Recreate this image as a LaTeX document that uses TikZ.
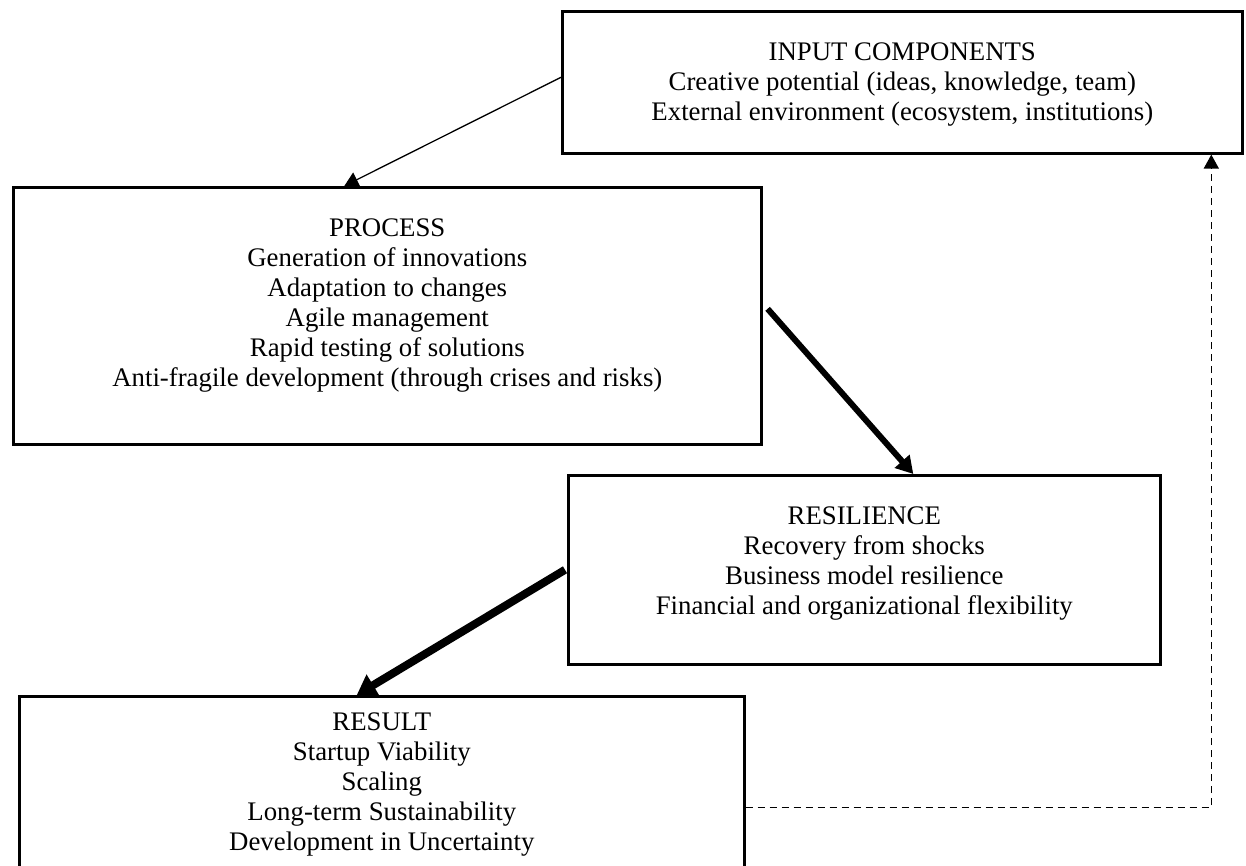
\documentclass[tikz,border=0pt]{standalone}
\usepackage{fontspec}
\setmainfont{Liberation Serif}
\usetikzlibrary{arrows.meta,calc}
\begin{document}
\begin{tikzpicture}[x=1pt,y=-1pt,
  box/.style={draw,line width=2.6pt,inner sep=0pt,anchor=north west},
  txt/.style={inner sep=0pt,anchor=north,align=center,font=\fontsize{26.8}{30}\selectfont},
  thinarrow/.style={line width=1.3pt,-{Triangle[length=14pt,width=16pt]}},
  midarrow/.style={line width=6pt,-{Triangle[length=17pt,width=19pt]}},
  boldarrow/.style={line width=8pt,-{Triangle[length=19pt,width=24pt]}},
  dasharrow/.style={line width=1.4pt,dash pattern=on 7pt off 5pt,-{Triangle[length=14pt,width=15pt]}}]
\path[use as bounding box,clip] (0,0) rectangle (1246,866);
\fill[white] (0,0) rectangle (1246,866);
% boxes
\node[box,minimum width=680pt,minimum height=142pt] (input) at (561,10) {};
\node[box,minimum width=748pt,minimum height=257pt] (process) at (12,186) {};
\node[box,minimum width=592pt,minimum height=189pt] (resil) at (567,474) {};
\node[box,minimum width=725pt,minimum height=222pt] (result) at (18,695) {};
% texts
\node[txt] (inputtxt) at (input.north) [yshift=-33pt] {INPUT COMPONENTS\\Creative potential (ideas, knowledge, team)\\External environment (ecosystem, institutions)};
\node[txt] (processtxt) at (process.north) [yshift=-33pt] {PROCESS\\Generation of innovations\\Adaptation to changes\\Agile management\\Rapid testing of solutions\\Anti-fragile development (through crises and risks)};
\node[txt] (resiltxt) at (resil.north) [yshift=-33pt] {RESILIENCE\\Recovery from shocks\\Business model resilience\\Financial and organizational flexibility};
\node[txt] (resulttxt) at (result.north) [yshift=-18pt] {RESULT\\Startup Viability\\Scaling\\Long-term Sustainability\\Development in Uncertainty};
% connectors
\draw[thinarrow] ([yshift=5pt]input.west) -- ([xshift=-43pt]process.north);
\draw[midarrow] ([xshift=5pt,yshift=7pt]process.east) -- ([xshift=49pt]resil.north);
\draw[boldarrow] ([xshift=-2pt]resil.west) -- ([xshift=-25pt]result.north);
\draw[dasharrow] (result.east) -| ([xshift=309pt]input.south);
\end{tikzpicture}
\end{document}
